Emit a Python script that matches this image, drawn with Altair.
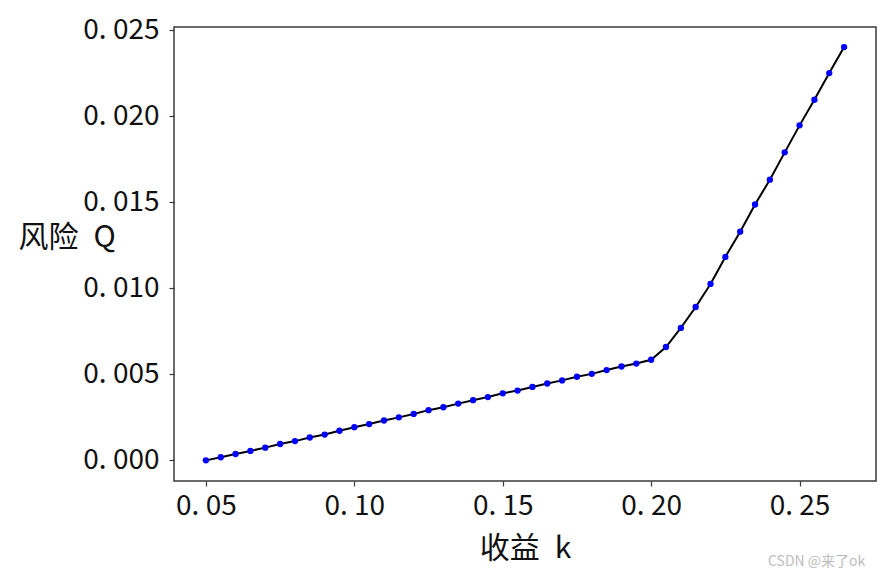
import altair as alt
import pandas as pd

# return k and risk Q
k_vals = [0.050, 0.055, 0.060, 0.065, 0.070, 0.075, 0.080, 0.085, 0.090, 0.095,
          0.100, 0.105, 0.110, 0.115, 0.120, 0.125, 0.130, 0.135, 0.140, 0.145,
          0.150, 0.155, 0.160, 0.165, 0.170, 0.175, 0.180, 0.185, 0.190, 0.195,
          0.200, 0.205, 0.210, 0.215, 0.220, 0.225, 0.230, 0.235, 0.240, 0.245,
          0.250, 0.255, 0.260, 0.265]
q_vals = [0.00000, 0.00018, 0.00037, 0.00055, 0.00074, 0.00095, 0.00112, 0.00133, 0.00150, 0.00172,
          0.00193, 0.00211, 0.00232, 0.00250, 0.00270, 0.00292, 0.00309, 0.00330, 0.00350, 0.00368,
          0.00390, 0.00406, 0.00427, 0.00447, 0.00465, 0.00486, 0.00503, 0.00525, 0.00546, 0.00563,
          0.00585, 0.00659, 0.00770, 0.00892, 0.01026, 0.01183, 0.01330, 0.01488, 0.01632, 0.01791,
          0.01948, 0.02097, 0.02252, 0.02403]

x_ticks = [0.05, 0.10, 0.15, 0.20, 0.25]
y_ticks = [0.000, 0.005, 0.010, 0.015, 0.020, 0.025]
x_title = "收益\u2002k"
y_title = "风险\u2002Q"
watermark = "CSDN @来了ok"

df = pd.DataFrame({"k": k_vals, "Q": q_vals})

FONT = "Noto Sans CJK SC"
TXT = "#111111"
FRAME = "#3a3a3a"

x_enc = alt.X(
    "k:Q",
    scale=alt.Scale(domain=[0.03925, 0.27575], nice=False, zero=False),
    axis=alt.Axis(
        values=x_ticks,
        labelExpr="replace(format(datum.value, '.2f'), '.', '. ')",
        title=x_title,
        titleY=67,
        titleBaseline="middle",
        titleAnchor="middle",
    ),
)
y_enc = alt.Y(
    "Q:Q",
    scale=alt.Scale(domain=[-0.0012, 0.0252], nice=False, zero=False),
    axis=alt.Axis(
        values=y_ticks,
        labelExpr="replace(format(datum.value, '.3f'), '.', '. ')",
        title=y_title,
        titleAngle=0,
        titleAlign="left",
        titleBaseline="middle",
        titleX=-156,
        titleY=210,
    ),
)

base = alt.Chart(df)
line = base.mark_line(color="#000000", strokeWidth=2).encode(x=x_enc, y=y_enc)
pts = base.mark_circle(color="#0000ff", opacity=1, size=40).encode(x="k:Q", y="Q:Q")

wm = alt.Chart(pd.DataFrame({"t": [watermark]})).mark_text(
    align="left", baseline="middle", font=FONT, fontSize=14, color="#bdbdbd"
).encode(x=alt.value(594), y=alt.value(535), text="t:N")

chart = (
    alt.layer(line, pts, wm)
    .properties(
        width=702,
        height=454,
        autosize=alt.AutoSizeParams(type="none"),
        padding={"left": 166, "top": 19, "right": 4, "bottom": 88},
        background="white",
    )
    .configure_view(stroke=FRAME, strokeWidth=1.5)
    .configure_axis(
        grid=False,
        domain=False,
        ticks=True,
        tickSize=5,
        tickColor=FRAME,
        tickWidth=1.2,
        labelFont=FONT,
        labelFontSize=28,
        labelColor=TXT,
        titleFont=FONT,
        titleFontSize=30,
        titleFontWeight="normal",
        titleColor=TXT,
    )
    .configure_axisX(labelPadding=6)
    .configure_axisY(labelPadding=10)
)

chart.save("out.html", embed_options={"renderer": "svg", "actions": False})
